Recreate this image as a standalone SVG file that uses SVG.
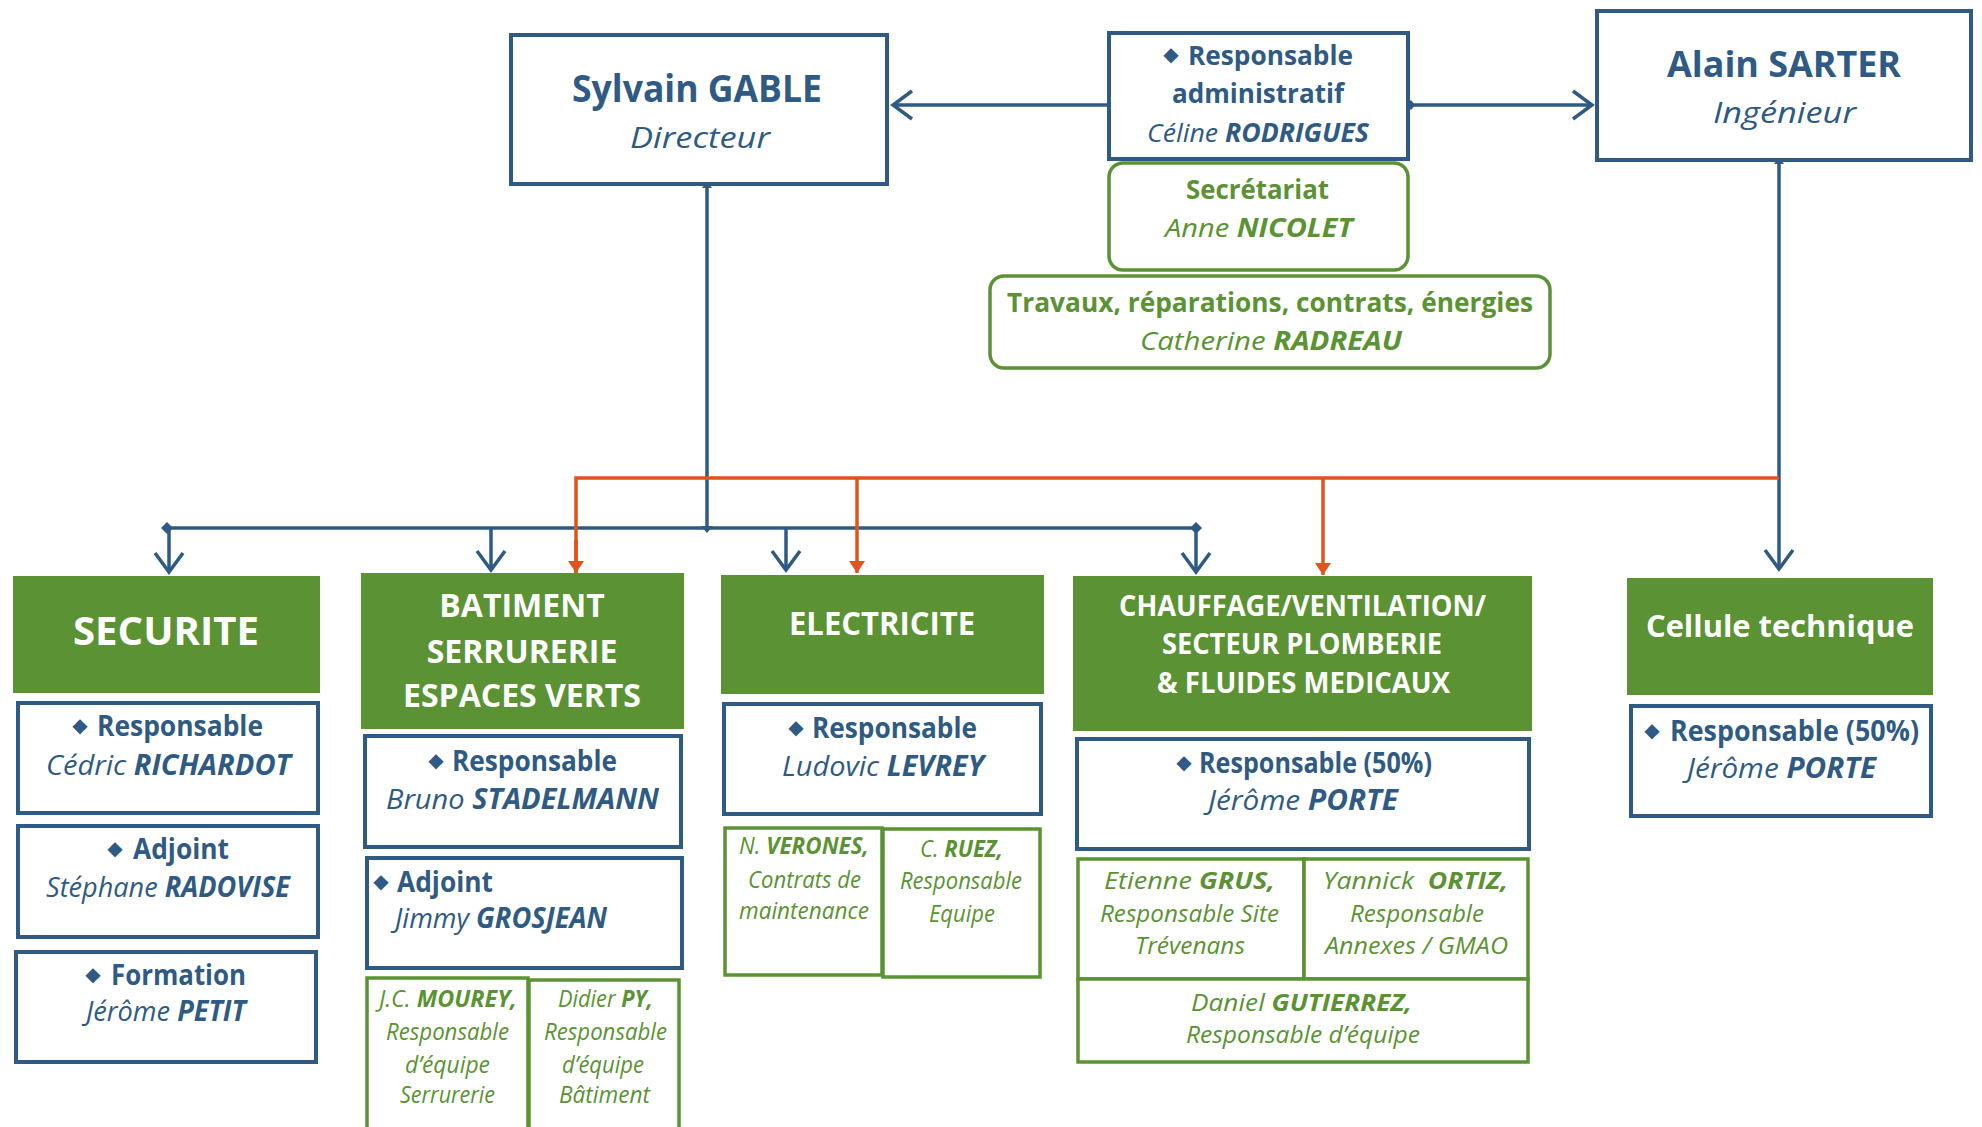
<svg xmlns="http://www.w3.org/2000/svg" width="1982" height="1127" viewBox="0 0 1982 1127">
<style>
text{font-family:"Open Sans","Noto Sans","Liberation Sans",sans-serif;}
.b{font-weight:700;}
.i{font-style:italic;}
.bi{font-weight:700;font-style:italic;}
.blue{fill:#2F5A83;}
.green{fill:#5B9233;}
.white{fill:#FFFFFF;}
.bx{fill:#FFFFFF;stroke:#2F5A83;stroke-width:4;}
.gx{fill:#FFFFFF;stroke:#5B9233;stroke-width:3.5;}
.hd{fill:#5B9233;}
.dia{font-family:"DejaVu Sans",sans-serif;fill:#2F5A83;font-size:20px;}
.cb{fill:none;stroke:#2F5A83;stroke-width:3.5;}
.cr{fill:none;stroke:#E0531C;stroke-width:3.5;}
</style>
<defs>
<marker id="chev" markerUnits="userSpaceOnUse" viewBox="-22 -16 26 32" markerWidth="26" markerHeight="32" refX="0" refY="0" orient="auto">
<path d="M -19 -14 L 0 0 L -19 14" fill="none" stroke="#2F5A83" stroke-width="3.5"/>
</marker>
<marker id="tri" markerUnits="userSpaceOnUse" viewBox="-13 -9 14 18" markerWidth="14" markerHeight="18" refX="0" refY="0" orient="auto">
<path d="M -12 -8 L 0 0 L -12 8 Z" fill="#E0531C"/>
</marker>
</defs>

<g id="connectors">
<line class="cb" x1="1107" y1="105" x2="893" y2="105" marker-end="url(#chev)"/>
<line class="cb" x1="1410" y1="105" x2="1592" y2="105" marker-end="url(#chev)"/>
<path d="M 1405 105 L 1411 100 L 1415 105 L 1411 110 Z" fill="#2F5A83"/>
<line class="cb" x1="707" y1="186" x2="707" y2="528"/>
<path d="M 702 188 L 707 181 L 712 188 Z" fill="#2F5A83"/>
<path class="cb" d="M 167 528 L 1196 528"/>
<path d="M 161 528 L 167 522 L 173 528 L 167 534 Z" fill="#2F5A83"/>
<path d="M 1190 528 L 1196 522 L 1202 528 L 1196 534 Z" fill="#2F5A83"/>
<path d="M 701 526 L 713 526 L 707 533 Z" fill="#2F5A83"/>
<line class="cb" x1="169" y1="528" x2="169" y2="572" marker-end="url(#chev)"/>
<line class="cb" x1="491" y1="528" x2="491" y2="570" marker-end="url(#chev)"/>
<line class="cb" x1="786" y1="528" x2="786" y2="570" marker-end="url(#chev)"/>
<line class="cb" x1="1196" y1="528" x2="1196" y2="572" marker-end="url(#chev)"/>
<line class="cb" x1="1779" y1="162" x2="1779" y2="569" marker-end="url(#chev)"/>
<path d="M 1774 164 L 1779 157 L 1784 164 Z" fill="#2F5A83"/>
<path class="cr" d="M 576 573 L 576 478 L 1779 478"/>
<line class="cr" x1="576" y1="540" x2="576" y2="573" marker-end="url(#tri)"/>
<line class="cr" x1="857" y1="478" x2="857" y2="573" marker-end="url(#tri)"/>
<line class="cr" x1="1323" y1="478" x2="1323" y2="575" marker-end="url(#tri)"/>
</g>

<g id="sylvain">
<rect class="bx" x="511" y="35" width="376" height="149"/>
<text class="b blue" x="572" y="102" font-size="37" textLength="250" lengthAdjust="spacingAndGlyphs">Sylvain GABLE</text>
<text class="i blue" x="630" y="148" font-size="30" textLength="140" lengthAdjust="spacingAndGlyphs">Directeur</text>
</g>

<g id="admin">
<rect class="bx" x="1109" y="33" width="299" height="126"/>
<text class="dia" x="1171" y="61" text-anchor="middle">◆</text>
<text class="b blue" x="1188" y="65" font-size="26" textLength="165" lengthAdjust="spacingAndGlyphs">Responsable</text>
<text class="b blue" x="1172" y="103" font-size="26" textLength="172" lengthAdjust="spacingAndGlyphs">administratif</text>
<text class="blue" x="1147" y="142" font-size="26" textLength="222" lengthAdjust="spacingAndGlyphs"><tspan class="i">Céline </tspan><tspan class="bi">RODRIGUES</tspan></text>
</g>

<g id="secretariat">
<rect class="gx" x="1109" y="163" width="299" height="107" rx="14"/>
<text class="b green" x="1186" y="199" font-size="26" textLength="143" lengthAdjust="spacingAndGlyphs">Secrétariat</text>
<text class="green" x="1165" y="237" font-size="26" textLength="188" lengthAdjust="spacingAndGlyphs"><tspan class="i">Anne </tspan><tspan class="bi">NICOLET</tspan></text>
</g>

<g id="travaux">
<rect class="gx" x="990" y="276" width="560" height="92" rx="14"/>
<text class="b green" x="1007" y="312" font-size="26" textLength="526" lengthAdjust="spacingAndGlyphs">Travaux, réparations, contrats, énergies</text>
<text class="green" x="1140" y="350" font-size="26" textLength="262" lengthAdjust="spacingAndGlyphs"><tspan class="i">Catherine </tspan><tspan class="bi">RADREAU</tspan></text>
</g>

<g id="alain">
<rect class="bx" x="1597" y="11" width="374" height="149"/>
<text class="b blue" x="1667" y="77" font-size="36" textLength="234" lengthAdjust="spacingAndGlyphs">Alain SARTER</text>
<text class="i blue" x="1713" y="123" font-size="30" textLength="143" lengthAdjust="spacingAndGlyphs">Ingénieur</text>
</g>

<g id="securite">
<rect class="hd" x="13" y="576" width="307" height="117"/>
<text class="b white" x="73" y="645" font-size="40" textLength="186" lengthAdjust="spacingAndGlyphs">SECURITE</text>
<rect class="bx" x="18" y="703" width="300" height="110"/>
<text class="dia" x="80" y="732" text-anchor="middle">◆</text>
<text class="b blue" x="97" y="736" font-size="28" textLength="166" lengthAdjust="spacingAndGlyphs">Responsable</text>
<text class="blue" x="46" y="775" font-size="28" textLength="245" lengthAdjust="spacingAndGlyphs"><tspan class="i">Cédric </tspan><tspan class="bi">RICHARDOT</tspan></text>
<rect class="bx" x="18" y="826" width="300" height="111"/>
<text class="dia" x="115" y="855" text-anchor="middle">◆</text>
<text class="b blue" x="133" y="859" font-size="28" textLength="96" lengthAdjust="spacingAndGlyphs">Adjoint</text>
<text class="blue" x="46" y="897" font-size="28" textLength="244" lengthAdjust="spacingAndGlyphs"><tspan class="i">Stéphane </tspan><tspan class="bi">RADOVISE</tspan></text>
<rect class="bx" x="16" y="952" width="300" height="110"/>
<text class="dia" x="93" y="981" text-anchor="middle">◆</text>
<text class="b blue" x="111" y="985" font-size="28" textLength="135" lengthAdjust="spacingAndGlyphs">Formation</text>
<text class="blue" x="86" y="1021" font-size="28" textLength="160" lengthAdjust="spacingAndGlyphs"><tspan class="i">Jérôme </tspan><tspan class="bi">PETIT</tspan></text>
</g>

<g id="batiment">
<rect class="hd" x="361" y="573" width="323" height="156"/>
<text class="b white" x="522" y="617" font-size="32" text-anchor="middle">BATIMENT</text>
<text class="b white" x="522" y="663" font-size="32" text-anchor="middle">SERRURERIE</text>
<text class="b white" x="522" y="707" font-size="32" text-anchor="middle">ESPACES VERTS</text>
<rect class="bx" x="365" y="736" width="316" height="111"/>
<text class="dia" x="436" y="767" text-anchor="middle">◆</text>
<text class="b blue" x="452" y="771" font-size="28" textLength="165" lengthAdjust="spacingAndGlyphs">Responsable</text>
<text class="blue" x="386" y="809" font-size="28" textLength="273" lengthAdjust="spacingAndGlyphs"><tspan class="i">Bruno </tspan><tspan class="bi">STADELMANN</tspan></text>
<rect class="bx" x="367" y="858" width="315" height="110"/>
<text class="dia" x="381" y="888" text-anchor="middle">◆</text>
<text class="b blue" x="397" y="892" font-size="28" textLength="96" lengthAdjust="spacingAndGlyphs">Adjoint</text>
<text class="blue" x="395" y="928" font-size="28" textLength="212" lengthAdjust="spacingAndGlyphs"><tspan class="i">Jimmy </tspan><tspan class="bi">GROSJEAN</tspan></text>
</g>

<g id="mourey">
<rect class="gx" x="367" y="978" width="161" height="160"/>
<text class="green" x="379" y="1007" font-size="23" textLength="138" lengthAdjust="spacingAndGlyphs"><tspan class="i">J.C. </tspan><tspan class="bi">MOUREY,</tspan></text>
<text class="i green" x="386" y="1040" font-size="23" textLength="123" lengthAdjust="spacingAndGlyphs">Responsable</text>
<text class="i green" x="405" y="1073" font-size="23" textLength="85" lengthAdjust="spacingAndGlyphs">d’équipe</text>
<text class="i green" x="400" y="1103" font-size="23" textLength="95" lengthAdjust="spacingAndGlyphs">Serrurerie</text>
</g>

<g id="py">
<rect class="gx" x="529" y="980" width="150" height="160"/>
<text class="green" x="558" y="1007" font-size="23" textLength="95" lengthAdjust="spacingAndGlyphs"><tspan class="i">Didier </tspan><tspan class="bi">PY,</tspan></text>
<text class="i green" x="544" y="1040" font-size="23" textLength="123" lengthAdjust="spacingAndGlyphs">Responsable</text>
<text class="i green" x="562" y="1073" font-size="23" textLength="82" lengthAdjust="spacingAndGlyphs">d’équipe</text>
<text class="i green" x="559" y="1103" font-size="23" textLength="91" lengthAdjust="spacingAndGlyphs">Bâtiment</text>
</g>

<g id="electricite">
<rect class="hd" x="721" y="575" width="323" height="119"/>
<text class="b white" x="789" y="635" font-size="32" textLength="186" lengthAdjust="spacingAndGlyphs">ELECTRICITE</text>
<rect class="bx" x="724" y="704" width="317" height="110"/>
<text class="dia" x="796" y="734" text-anchor="middle">◆</text>
<text class="b blue" x="812" y="738" font-size="28" textLength="165" lengthAdjust="spacingAndGlyphs">Responsable</text>
<text class="blue" x="782" y="776" font-size="28" textLength="202" lengthAdjust="spacingAndGlyphs"><tspan class="i">Ludovic </tspan><tspan class="bi">LEVREY</tspan></text>
</g>

<g id="verones">
<rect class="gx" x="725" y="828" width="157" height="147"/>
<text class="green" x="739" y="854" font-size="23" textLength="130" lengthAdjust="spacingAndGlyphs"><tspan class="i">N. </tspan><tspan class="bi">VERONES,</tspan></text>
<text class="i green" x="748" y="888" font-size="23" textLength="113" lengthAdjust="spacingAndGlyphs">Contrats de</text>
<text class="i green" x="739" y="919" font-size="23" textLength="130" lengthAdjust="spacingAndGlyphs">maintenance</text>
</g>

<g id="ruez">
<rect class="gx" x="883" y="829" width="157" height="148"/>
<text class="green" x="920" y="857" font-size="23" textLength="83" lengthAdjust="spacingAndGlyphs"><tspan class="i">C. </tspan><tspan class="bi">RUEZ,</tspan></text>
<text class="i green" x="900" y="889" font-size="23" textLength="122" lengthAdjust="spacingAndGlyphs">Responsable</text>
<text class="i green" x="929" y="922" font-size="23" textLength="66" lengthAdjust="spacingAndGlyphs">Equipe</text>
</g>

<g id="chauffage">
<rect class="hd" x="1073" y="576" width="459" height="155"/>
<text class="b white" x="1119" y="616" font-size="29" textLength="367" lengthAdjust="spacingAndGlyphs">CHAUFFAGE/VENTILATION/</text>
<text class="b white" x="1162" y="654" font-size="29" textLength="280" lengthAdjust="spacingAndGlyphs">SECTEUR PLOMBERIE</text>
<text class="b white" x="1157" y="693" font-size="29" textLength="293" lengthAdjust="spacingAndGlyphs">&amp; FLUIDES MEDICAUX</text>
<rect class="bx" x="1077" y="739" width="452" height="110"/>
<text class="dia" x="1184" y="769" text-anchor="middle">◆</text>
<text class="b blue" x="1199" y="773" font-size="28" textLength="233" lengthAdjust="spacingAndGlyphs">Responsable (50%)</text>
<text class="blue" x="1208" y="810" font-size="28" textLength="190" lengthAdjust="spacingAndGlyphs"><tspan class="i">Jérôme </tspan><tspan class="bi">PORTE</tspan></text>
</g>

<g id="grus">
<rect class="gx" x="1078" y="859" width="226" height="120"/>
<text class="green" x="1104" y="889" font-size="24" textLength="171" lengthAdjust="spacingAndGlyphs"><tspan class="i">Etienne </tspan><tspan class="bi">GRUS,</tspan></text>
<text class="i green" x="1100" y="922" font-size="24" textLength="179" lengthAdjust="spacingAndGlyphs">Responsable Site</text>
<text class="i green" x="1135" y="954" font-size="24" textLength="110" lengthAdjust="spacingAndGlyphs">Trévenans</text>
</g>

<g id="ortiz">
<rect class="gx" x="1304" y="859" width="224" height="120"/>
<text class="green" x="1323" y="889" font-size="24" textLength="185" lengthAdjust="spacingAndGlyphs"><tspan class="i">Yannick&#160; </tspan><tspan class="bi">ORTIZ,</tspan></text>
<text class="i green" x="1350" y="922" font-size="24" textLength="134" lengthAdjust="spacingAndGlyphs">Responsable</text>
<text class="i green" x="1325" y="954" font-size="24" textLength="183" lengthAdjust="spacingAndGlyphs">Annexes / GMAO</text>
</g>

<g id="gutierrez">
<rect class="gx" x="1078" y="979" width="450" height="83"/>
<text class="green" x="1191" y="1011" font-size="24" textLength="221" lengthAdjust="spacingAndGlyphs"><tspan class="i">Daniel </tspan><tspan class="bi">GUTIERREZ,</tspan></text>
<text class="i green" x="1186" y="1043" font-size="24" textLength="234" lengthAdjust="spacingAndGlyphs">Responsable d’équipe</text>
</g>

<g id="cellule">
<rect class="hd" x="1627" y="578" width="306" height="117"/>
<text class="b white" x="1646" y="637" font-size="30" textLength="268" lengthAdjust="spacingAndGlyphs">Cellule technique</text>
<rect class="bx" x="1631" y="706" width="300" height="110"/>
<text class="dia" x="1652" y="737" text-anchor="middle">◆</text>
<text class="b blue" x="1670" y="741" font-size="28" textLength="249" lengthAdjust="spacingAndGlyphs">Responsable (50%)</text>
<text class="blue" x="1687" y="778" font-size="28" textLength="189" lengthAdjust="spacingAndGlyphs"><tspan class="i">Jérôme </tspan><tspan class="bi">PORTE</tspan></text>
</g>
</svg>
